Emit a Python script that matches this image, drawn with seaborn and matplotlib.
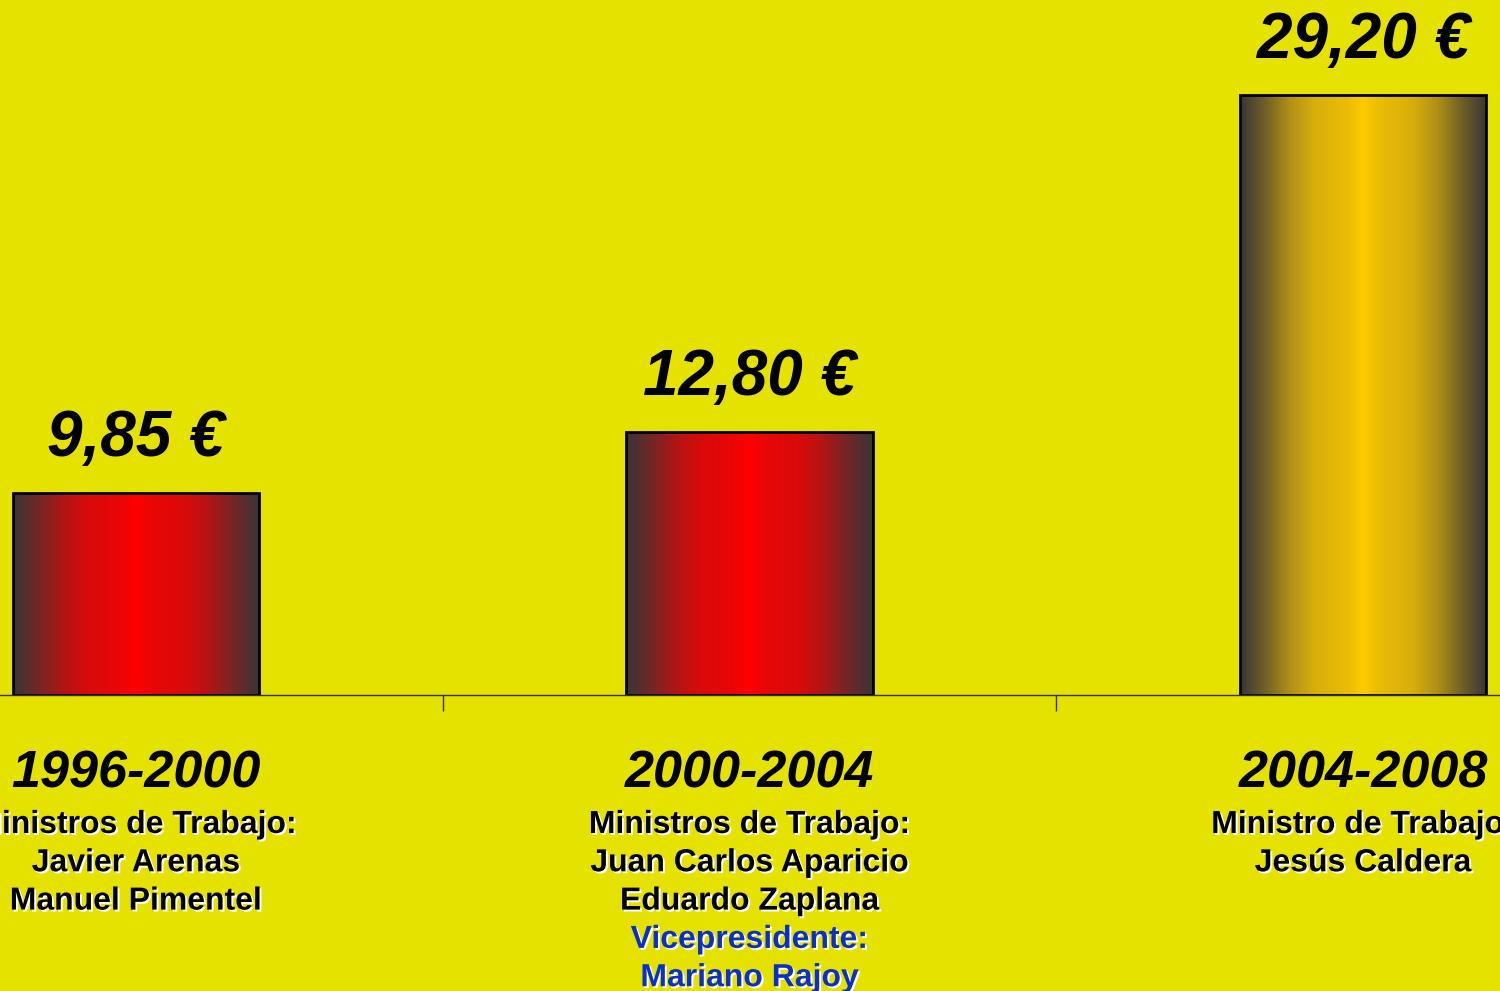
import numpy as np
import pandas as pd
import matplotlib
matplotlib.use("Agg")
import matplotlib.pyplot as plt
import matplotlib.patheffects as pe
from matplotlib.colors import LinearSegmentedColormap, to_rgb
from matplotlib.transforms import blended_transform_factory
import seaborn as sns

# ---- data ----
periods = ["1996-2000", "2000-2004", "2004-2008"]
values = [9.85, 12.80, 29.20]
value_labels = ["9,85 €", "12,80 €", "29,20 €"]
minister_lines = [
    ["Ministros de Trabajo:", "Javier Arenas", "Manuel Pimentel"],
    ["Ministros de Trabajo:", "Juan Carlos Aparicio", "Eduardo Zaplana"],
    ["Ministro de Trabajo:", "Jesús Caldera"],
]
vice_lines = [[], ["Vicepresidente:", "Mariano Rajoy"], []]
center_colors = ["#ff0000", "#ff0000", "#ffcc00"]

BG = "#e6e200"
DARK = "#3a3536"
W, H, DPI = 1500, 991, 100

sns.set_theme(style="white")
plt.rcParams["font.family"] = ["Liberation Sans", "DejaVu Sans"]

fig = plt.figure(figsize=(W / DPI, H / DPI), dpi=DPI, facecolor=BG)
base_px = 695
ax = fig.add_axes([0, (H - base_px) / H, 1, base_px / H])
ax.set_facecolor(BG)

df = pd.DataFrame({"period": periods, "value": values})
sns.barplot(data=df, x="period", y="value", hue="period", palette=center_colors,
            legend=False, width=0.401, ax=ax, edgecolor="black", linewidth=2,
            saturation=1)

px_per_unit_x = 613.5
x_left = -136 / px_per_unit_x
x_right = (W - 136) / px_per_unit_x
px_per_val = 20.55
y_top = base_px / px_per_val


def mix(a, b, t):
    return tuple((1 - t) * np.array(to_rgb(a)) + t * np.array(to_rgb(b)))


for patch, cc in zip(ax.patches, center_colors):
    x0, y0 = patch.get_x(), patch.get_y()
    w, h = patch.get_width(), patch.get_height()
    stops = [(0.0, DARK), (0.1, mix(DARK, cc, 0.28)), (0.2, mix(DARK, cc, 0.6)),
             (0.3, mix(DARK, cc, 0.8)), (0.44, mix(DARK, cc, 0.9)), (0.5, cc)]
    stops = stops + [(1 - p, c) for p, c in reversed(stops[:-1])]
    cmap = LinearSegmentedColormap.from_list("g", stops)
    grad = np.linspace(0, 1, 512).reshape(1, -1)
    im = ax.imshow(grad, extent=[x0, x0 + w, y0, y0 + h], aspect="auto",
                   cmap=cmap, zorder=patch.get_zorder() - 0.1, interpolation="bilinear")
    im.set_clip_path(patch)
    patch.set_facecolor("none")
    patch.set_zorder(patch.get_zorder() + 1)

ax.set_xlim(x_left, x_right)
ax.set_ylim(0, y_top)
ax.set_xlabel("")
ax.set_ylabel("")
ax.set_yticks([])
ax.set_xticks([0.5, 1.5])
ax.set_xticklabels([])
ax.tick_params(axis="x", direction="out", length=16 * 72 / DPI, width=1,
               color="#333300", bottom=True)
for s in ["top", "left", "right"]:
    ax.spines[s].set_visible(False)
ax.spines["bottom"].set_color("#333300")
ax.spines["bottom"].set_linewidth(1)

# value labels above bars
for patch, lab in zip(ax.patches, value_labels):
    cx = patch.get_x() + patch.get_width() / 2
    ax.annotate(lab, (cx, patch.get_height()), xytext=(0, 37 * 72 / DPI),
                textcoords="offset points", ha="center", va="baseline",
                fontsize=46, fontweight="bold", fontstyle="italic", color="black")

tr = blended_transform_factory(ax.transData, fig.transFigure)
shadow = [pe.SimplePatchShadow(offset=(1.4, -1.4), shadow_rgbFace="white", alpha=1), pe.Normal()]

for i, per in enumerate(periods):
    ax.text(i, 1 - 787 / H, per, transform=tr, ha="center", va="baseline",
            fontsize=37.5, fontweight="bold", fontstyle="italic", color="black", clip_on=False)
    lines = [(t, "black") for t in minister_lines[i]] + [(t, "#0a30c8") for t in vice_lines[i]]
    for j, (t, col) in enumerate(lines):
        yb = 833 + j * 38.3
        ax.text(i, 1 - yb / H, t, transform=tr, ha="center", va="baseline",
                fontsize=23, fontweight="bold", color=col, clip_on=False,
                path_effects=shadow)

fig.savefig("out.png", dpi=DPI, facecolor=BG)
